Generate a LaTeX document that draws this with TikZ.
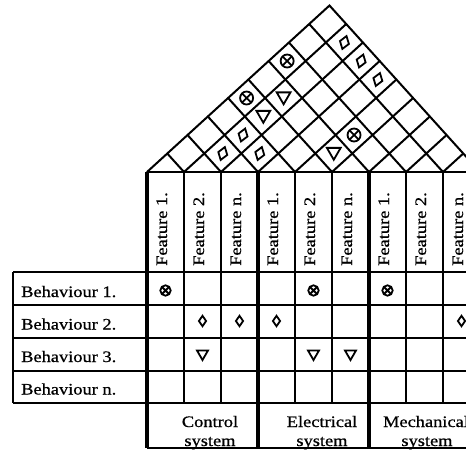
\documentclass[tikz,border=0pt]{standalone}
\usepackage{fontspec}
\setmainfont{Liberation Serif}[FakeStretch=1.15, FakeBold=0.7]
\begin{document}
\begin{tikzpicture}[x=1pt,y=-1pt,
  thingrid/.style={line width=1.8pt},
  thicksep/.style={line width=4.8pt},
  roofline/.style={line width=2pt, line cap=round},
  lbl/.style={font=\fontsize{16}{18}\selectfont, inner sep=0pt},
  feat/.style={lbl, rotate=90, anchor=base west},
  beh/.style={lbl, anchor=base west},
  sys/.style={lbl, anchor=base},
  symline/.style={line width=1.8pt},
  pics/otim/.style={code={
    \draw[symline] (0,0) circle (5.2);
    \draw[symline] (-3.6,-3.6) -- (3.6,3.6) (-3.6,3.6) -- (3.6,-3.6);}},
  pics/loz/.style={code={
    \draw[symline, line join=miter] (0,-5.2) -- (3.6,0) -- (0,5.2) -- (-3.6,0) -- cycle;}},
  pics/nab/.style={code={
    \draw[symline, line join=miter] (-5.5,-4.5) -- (5.5,-4.5) -- (0,5) -- cycle;}}
]
\useasboundingbox (0,0) rectangle (466,451);
\clip (0,0) rectangle (466,451);

% ---------- roof (slightly sheared as in the scan) ----------
\begin{scope}[shift={(147,172)}, cm={1,0,0.096,1,(0,0)}]
  \draw[roofline] (0,0) -- (166.5,-166.5) -- (333,0);
  \foreach \k in {1,...,8} {
    \draw[roofline] (\k*37,0) -- ({(333+\k*37)/2},{-(333-\k*37)/2});
    \draw[roofline] (\k*37,0) -- ({\k*37/2},{-\k*37/2});
  }
  % correlation symbols: cell (i,j) centre at ((i+j-1)*18.5, -(j-i)*18.5)
  \foreach \i/\j in {1/5,1/7,5/7}
    \pic[scale=1.25] at ({(\i+\j-1)*18.5},{-(\j-\i)*18.5}) {otim};
  \foreach \i/\j in {2/3,2/4,3/4,2/9,3/9,4/9}
    \pic[scale=1.3, rotate=-18] at ({(\i+\j-1)*18.5},{-(\j-\i)*18.5}) {loz};
  \foreach \i/\j in {2/5,2/6,5/6}
    \pic[scale=1.25] at ({(\i+\j-1)*18.5},{-(\j-\i)*18.5}) {nab};
\end{scope}

% ---------- table lines ----------
\draw[thingrid] (147,172) -- (480,172);
\foreach \y in {272,305,338,371,403}
  \draw[thingrid] (13,\y) -- (480,\y);
\draw[thingrid] (13,272) -- (13,403);
\draw[thingrid] (147,448) -- (480,448);
\foreach \k in {1,2,4,5,7,8}
  \draw[thingrid] ({147+\k*37},172) -- ({147+\k*37},403);
\draw[thingrid] (480,172) -- (480,448);
\foreach \k in {0,3,6}
  \draw[thicksep] ({147+\k*37},172) -- ({147+\k*37},448);

% ---------- feature labels ----------
\foreach \k/\t in {1/1,2/2,3/n,4/1,5/2,6/n,7/1,8/2,9/n}
  \node[feat] (f\k) at ({147+(\k-1)*37+20},266) {Feature \t.};

% ---------- behaviour labels ----------
\node[beh] (b1) at (21,297) {Behaviour 1.};
\node[beh] (b2) at (21,329.5) {Behaviour 2.};
\node[beh] (b3) at (21,362) {Behaviour 3.};
\node[beh] (b4) at (21,394.5) {Behaviour n.};

% ---------- system labels ----------
\node[sys] (s1a) at (210,427) {Control};
\node[sys] (s1b) at (210,446) {system};
\node[sys] (s2a) at (322,427) {Electrical};
\node[sys] (s2b) at (322,446) {system};
\node[sys] (s3a) at (426,427) {Mechanical};
\node[sys] (s3b) at (427,446) {system};

% ---------- matrix symbols ----------
\foreach \c in {1,5,7}
  \pic at ({147+(\c-0.5)*37},290.5) {otim};
\foreach \c in {2,3,4,9}
  \pic at ({147+(\c-0.5)*37},321) {loz};
\foreach \c in {2,5,6}
  \pic at ({147+(\c-0.5)*37},355) {nab};
\end{tikzpicture}
\end{document}
